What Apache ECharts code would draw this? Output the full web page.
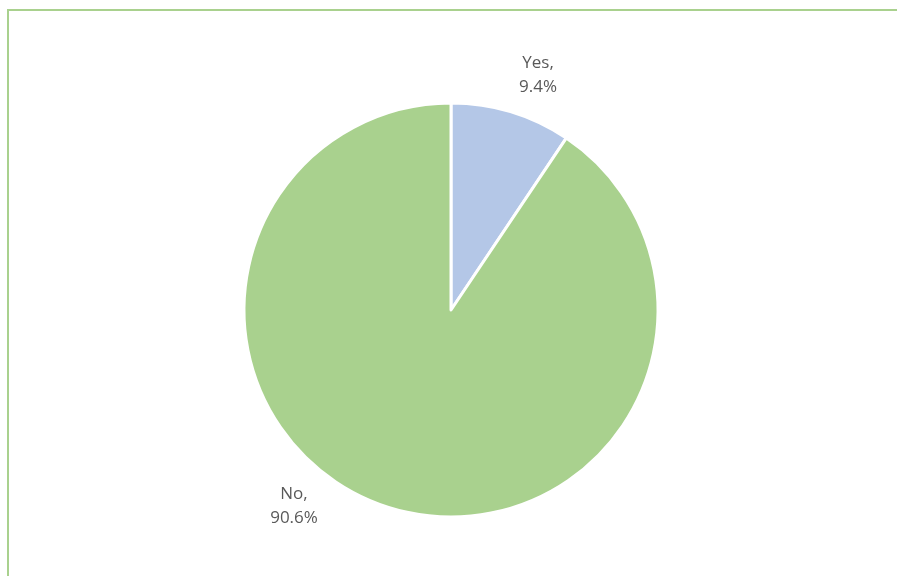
<!DOCTYPE html>
<html>
<head>
<meta charset="utf-8">
<script src="https://cdn.jsdelivr.net/npm/echarts@6/dist/echarts.min.js"></script>
<style>
  html, body { margin: 0; padding: 0; background: #ffffff; }
  #chart { width: 897px; height: 576px; }
</style>
</head>
<body>
<div id="chart"></div>
<script>
// Survey answer shares (percent)
const categories = ['Yes', 'No'];
const shares = [9.4, 90.6];
const sliceColors = ['#b4c7e7', '#a9d18e'];

// Label anchor points (centre of each two-line label block)
const labelAnchors = [
  { x: 538, y: 75 },
  { x: 294, y: 506 }
];

const chart = echarts.init(document.getElementById('chart'), null, { renderer: 'canvas' });

chart.setOption({
  animation: false,
  backgroundColor: '#ffffff',
  graphic: [{
    type: 'rect',
    shape: { x: 8, y: 10, width: 900, height: 580 },
    style: { fill: 'none', stroke: '#a9d18e', lineWidth: 2 },
    silent: true
  }],
  series: [{
    type: 'pie',
    center: [451, 310],
    radius: 207,
    startAngle: 90,
    clockwise: true,
    data: categories.map((name, i) => ({
      name,
      value: shares[i],
      itemStyle: { color: sliceColors[i] }
    })),
    itemStyle: { borderColor: '#ffffff', borderWidth: 3 },
    label: {
      show: true,
      position: 'outside',
      formatter: (p) => p.name + ',\n' + p.value.toFixed(1) + '%',
      fontFamily: 'Open Sans, Liberation Sans, sans-serif',
      fontSize: 17,
      lineHeight: 24,
      color: '#595959',
      align: 'center'
    },
    labelLine: { show: false },
    labelLayout: (params) => {
      const a = labelAnchors[params.dataIndex];
      return { x: a.x, y: a.y, align: 'center', verticalAlign: 'middle' };
    },
    emphasis: { disabled: true }
  }]
});
</script>
</body>
</html>
